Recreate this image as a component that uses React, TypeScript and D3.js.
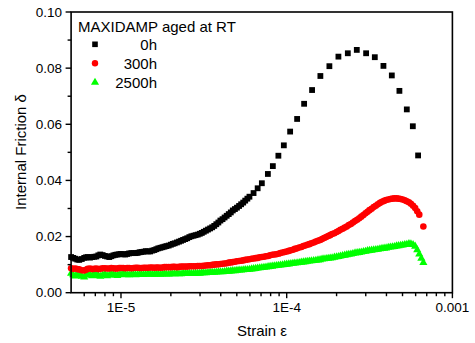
import React from "react";
import * as d3 from "d3";

// ---- data ----
const strainGrid = [
  5.0e-6, 5.3e-6, 5.6e-6, 6.0e-6, 6.3e-6, 6.7e-6, 7.1e-6, 7.5e-6, 8.0e-6, 8.5e-6, 9.0e-6, 9.5e-6,
  1.0e-5, 1.06e-5, 1.12e-5, 1.19e-5, 1.26e-5, 1.33e-5, 1.41e-5, 1.5e-5, 1.59e-5, 1.68e-5,
  1.78e-5, 1.88e-5, 2.0e-5, 2.11e-5, 2.24e-5, 2.37e-5, 2.51e-5, 2.66e-5, 2.82e-5, 2.99e-5,
  3.16e-5, 3.35e-5, 3.55e-5, 3.76e-5, 3.98e-5, 4.22e-5, 4.47e-5, 4.73e-5, 5.01e-5, 5.31e-5,
  5.62e-5, 5.96e-5, 6.31e-5, 6.68e-5, 7.08e-5, 7.5e-5, 7.94e-5, 8.41e-5, 8.91e-5, 9.44e-5,
  1.0e-4, 1.06e-4, 1.12e-4, 1.19e-4, 1.26e-4, 1.33e-4, 1.41e-4, 1.5e-4, 1.59e-4, 1.68e-4,
  1.78e-4, 1.88e-4, 2.0e-4, 2.11e-4, 2.24e-4, 2.37e-4, 2.51e-4, 2.66e-4, 2.82e-4, 2.99e-4,
  3.16e-4, 3.35e-4, 3.55e-4, 3.76e-4, 3.98e-4, 4.22e-4, 4.47e-4, 4.73e-4, 5.01e-4, 5.31e-4,
  5.62e-4, 5.96e-4, 6.31e-4, 6.68e-4,
];
// in-between measurement strains
const strainMid = [
  5.15e-6, 5.45e-6, 5.8e-6, 6.15e-6, 6.5e-6, 6.9e-6, 7.3e-6, 7.75e-6, 8.25e-6, 8.75e-6, 9.25e-6, 9.75e-6,
  1.03e-5, 1.09e-5, 1.155e-5, 1.225e-5, 1.295e-5, 1.37e-5, 1.455e-5, 1.545e-5, 1.635e-5, 1.73e-5,
  1.83e-5, 1.94e-5, 2.055e-5, 2.175e-5, 2.305e-5, 2.44e-5, 2.585e-5, 2.74e-5, 2.905e-5, 3.075e-5,
  3.255e-5, 3.45e-5, 3.655e-5, 3.87e-5, 4.1e-5, 4.345e-5, 4.6e-5, 4.87e-5, 5.16e-5, 5.465e-5,
  5.79e-5, 6.135e-5, 6.495e-5, 6.88e-5, 7.29e-5, 7.72e-5, 8.175e-5, 8.66e-5, 9.17e-5, 9.72e-5,
  1.03e-4, 1.09e-4, 1.155e-4, 1.225e-4, 1.295e-4, 1.37e-4, 1.455e-4, 1.545e-4, 1.635e-4, 1.73e-4,
  1.83e-4, 1.94e-4, 2.055e-4, 2.175e-4, 2.305e-4, 2.44e-4, 2.585e-4, 2.74e-4, 2.905e-4, 3.075e-4,
  3.255e-4, 3.45e-4, 3.655e-4, 3.87e-4, 4.1e-4, 4.345e-4, 4.6e-4, 4.87e-4, 5.16e-4, 5.465e-4,
  5.79e-4, 6.135e-4, 6.495e-4,
];

// 0h: dense part (first strains of the grid / mid grid)
const friction0hDense = [
  0.0127, 0.0121, 0.0117, 0.0124, 0.0127, 0.0127, 0.0129, 0.0136, 0.0131, 0.0127, 0.0133, 0.0136,
  0.0138, 0.0136, 0.014, 0.0141, 0.0142, 0.0145, 0.0148, 0.0147, 0.0152, 0.0158,
  0.0162, 0.0166, 0.0171, 0.0176, 0.0182, 0.0188, 0.0194, 0.0201, 0.0205, 0.021,
  0.0217, 0.0225, 0.0233, 0.0244, 0.0257, 0.0268, 0.028, 0.0293, 0.0303, 0.0315,
  0.0328, 0.0342, 0.0355, 0.0372, 0.039,
];
const friction0hMid = [
  0.0124, 0.0118, 0.012, 0.0126, 0.0125, 0.0128, 0.0133, 0.0134, 0.0129, 0.013, 0.0135, 0.0137,
  0.0137, 0.0138, 0.0141, 0.0141, 0.0144, 0.0146, 0.0147, 0.015, 0.0155, 0.016,
  0.0164, 0.0168, 0.0174, 0.0179, 0.0185, 0.0191, 0.0198, 0.0203, 0.0207, 0.0213,
  0.0221, 0.0229, 0.0238, 0.025, 0.0262, 0.0274, 0.0286, 0.0298, 0.0309, 0.0321,
  0.0335,
];
// 0h: sparse part
const strain0hSparse = [
  7.7e-5, 8.25e-5, 8.91e-5, 9.61e-5, 1.049e-4, 1.156e-4, 1.274e-4, 1.423e-4, 1.597e-4, 1.81e-4,
  2.052e-4, 2.338e-4, 2.649e-4, 3.015e-4, 3.402e-4, 3.836e-4, 4.309e-4, 4.789e-4, 5.307e-4,
  5.77e-4, 6.209e-4,
];
const friction0hSparse = [
  0.0423, 0.0451, 0.0488, 0.0525, 0.0574, 0.0619, 0.0673, 0.0722, 0.0772, 0.0807,
  0.0841, 0.0853, 0.0865, 0.0853, 0.0839, 0.0808, 0.0774, 0.0719, 0.0653,
  0.0593, 0.0489,
];

const friction300h = [
  0.0087, 0.0086, 0.0083, 0.0079, 0.0085, 0.0084, 0.0086, 0.0085, 0.0087, 0.0086, 0.0087, 0.0086,
  0.0088, 0.0087, 0.0088, 0.0088, 0.0089, 0.0088, 0.0089, 0.009, 0.0089, 0.009,
  0.009, 0.0091, 0.0091, 0.0092, 0.0092, 0.0093, 0.0093, 0.0094, 0.0094, 0.0095,
  0.0096, 0.0098, 0.0099, 0.0101, 0.0102, 0.0104, 0.0107, 0.0109, 0.0112, 0.0114,
  0.0117, 0.0119, 0.0122, 0.0124, 0.0127, 0.013, 0.0133, 0.0136, 0.0139, 0.0143,
  0.0147, 0.0151, 0.0156, 0.0161, 0.0166, 0.0171, 0.0176, 0.0182, 0.0188, 0.0195,
  0.0202, 0.0209, 0.0216, 0.0224, 0.0232, 0.0241, 0.025, 0.026, 0.0271, 0.0283,
  0.0294, 0.0305, 0.0315, 0.0324, 0.033, 0.0334, 0.0336, 0.0335, 0.0332, 0.0326,
  0.0317, 0.0302, 0.0278, 0.0236,
];
const friction300hMid = [
  0.0085, 0.0084, 0.008, 0.0082, 0.0086, 0.0085, 0.0084, 0.0087, 0.0086, 0.0088, 0.0086, 0.0088,
  0.0088, 0.0088, 0.0087, 0.0089, 0.0088, 0.0089, 0.0089, 0.009, 0.009, 0.0089,
  0.0091, 0.0091, 0.0092, 0.0091, 0.0093, 0.0093, 0.0094, 0.0094, 0.0095, 0.0095,
  0.0097, 0.0098, 0.01, 0.0101, 0.0103, 0.0105, 0.0108, 0.011, 0.0113, 0.0115,
  0.0118, 0.0121, 0.0123, 0.0126, 0.0128, 0.0131, 0.0135, 0.0137, 0.0141, 0.0145,
  0.0149, 0.0153, 0.0158, 0.0163, 0.0168, 0.0173, 0.0179, 0.0185, 0.0191, 0.0198,
  0.0205, 0.0212, 0.022, 0.0228, 0.0236, 0.0245, 0.0255, 0.0265, 0.0277, 0.0288,
  0.0299, 0.031, 0.032, 0.0327, 0.0332, 0.0335, 0.0336, 0.0334, 0.0329, 0.0322,
  0.031, 0.029,
];

const friction2500h = [
  0.0072, 0.0062, 0.0066, 0.0058, 0.007, 0.0063, 0.0068, 0.0061, 0.0069, 0.0065, 0.0067, 0.0064,
  0.0067, 0.0068, 0.0066, 0.0068, 0.0067, 0.0068, 0.0068, 0.0069, 0.0068, 0.0069,
  0.0069, 0.0069, 0.007, 0.007, 0.007, 0.0071, 0.0071, 0.0071, 0.0072, 0.0072,
  0.0073, 0.0074, 0.0075, 0.0076, 0.0077, 0.0078, 0.0079, 0.0081, 0.0082, 0.0083,
  0.0085, 0.0086, 0.0088, 0.009, 0.0092, 0.0094, 0.0096, 0.0098, 0.01, 0.0102,
  0.0104, 0.0106, 0.0108, 0.011, 0.0112, 0.0114, 0.0116, 0.0118, 0.012, 0.0123,
  0.0125, 0.0127, 0.013, 0.0133, 0.0136, 0.0139, 0.0142, 0.0145, 0.0147, 0.015,
  0.0153, 0.0155, 0.0157, 0.016, 0.0162, 0.0165, 0.0167, 0.017, 0.0172, 0.0175,
  0.0176, 0.0168, 0.014, 0.011,
];
const friction2500hMid = [
  0.0066, 0.0069, 0.0061, 0.0065, 0.0066, 0.007, 0.0064, 0.0066, 0.0063, 0.007, 0.0065, 0.0066,
  0.0069, 0.0066, 0.0068, 0.0066, 0.0068, 0.0067, 0.0069, 0.0068, 0.0069, 0.0068,
  0.007, 0.0069, 0.007, 0.0071, 0.007, 0.0071, 0.0072, 0.0071, 0.0072, 0.0073,
  0.0073, 0.0075, 0.0075, 0.0077, 0.0077, 0.0079, 0.008, 0.0081, 0.0083, 0.0084,
  0.0085, 0.0087, 0.0089, 0.0091, 0.0093, 0.0095, 0.0097, 0.0099, 0.0101, 0.0103,
  0.0105, 0.0107, 0.0109, 0.0111, 0.0113, 0.0115, 0.0117, 0.0119, 0.0122, 0.0124,
  0.0126, 0.0129, 0.0131, 0.0135, 0.0138, 0.014, 0.0144, 0.0146, 0.0149, 0.0152,
  0.0154, 0.0156, 0.0159, 0.0161, 0.0164, 0.0166, 0.0169, 0.0171, 0.0174, 0.0177,
  0.0174, 0.0155, 0.0125,
];

const yTicks = [0, 0.02, 0.04, 0.06, 0.08, 0.1];
const yMinorTicks = [0.01, 0.03, 0.05, 0.07, 0.09];
const xMajorTicks = [1e-5, 1e-4, 1e-3];
const xMajorLabels = ["1E-5", "1E-4", "0.001"];
const xMinorTicks = [
  6e-6, 7e-6, 8e-6, 9e-6,
  2e-5, 3e-5, 4e-5, 5e-5, 6e-5, 7e-5, 8e-5, 9e-5,
  2e-4, 3e-4, 4e-4, 5e-4, 6e-4, 7e-4, 8e-4, 9e-4,
];
const legendTitle = "MAXIDAMP aged at RT";
const seriesLabels = ["0h", "300h", "2500h"];

const FONT = "Arial, 'Liberation Sans', sans-serif";

function pair(strains: number[], values: number[]) {
  return values.map((v, i) => [strains[i], v] as [number, number]);
}

export default function App() {
  const x = d3.scaleLog().domain([5e-6, 1e-3]).range([71.1, 452.4]);
  const y = d3.scaleLinear().domain([0, 0.1]).range([292.7, 12]);
  const [x0, x1] = x.range();
  const [yb, yt] = y.range();

  const black = [
    ...pair(strainGrid, friction0hDense),
    ...pair(strainMid, friction0hMid),
    ...pair(strain0hSparse, friction0hSparse),
  ];
  const red = [...pair(strainGrid, friction300h), ...pair(strainMid, friction300hMid)];
  const green = [...pair(strainGrid, friction2500h), ...pair(strainMid, friction2500hMid)];

  const sq = 5.8;
  const triPath = d3.symbol().type(d3.symbolTriangle).size(29)();

  return (
    <svg
      width={475}
      height={343}
      style={{ position: "absolute", left: 0, top: 0, background: "#fff" }}
      fontFamily={FONT}
    >
      <rect x={0} y={0} width={475} height={343} fill="#fff" />
      {/* data */}
      <g>
        {green.map(([s, v], i) => (
          <path key={"g" + i} d={triPath!} transform={`translate(${x(s)},${y(v) + 0.8})`} fill="#00ff00" />
        ))}
        {red.map(([s, v], i) => (
          <circle key={"r" + i} cx={x(s)} cy={y(v)} r={3.3} fill="#ff0000" />
        ))}
        {black.map(([s, v], i) => (
          <rect key={"b" + i} x={x(s) - sq / 2} y={y(v) - sq / 2} width={sq} height={sq} fill="#000" />
        ))}
      </g>
      {/* frame */}
      <rect x={x0} y={yt} width={x1 - x0} height={yb - yt} fill="none" stroke="#000" strokeWidth={1.6} />
      {/* y ticks */}
      {yTicks.map((t) => (
        <g key={"yt" + t}>
          <line x1={x0 - 5.5} x2={x0} y1={y(t)} y2={y(t)} stroke="#000" strokeWidth={1.4} />
          <text x={62} y={y(t)} dy="0.35em" textAnchor="end" fontSize={13.5} fill="#000">
            {t.toFixed(2)}
          </text>
        </g>
      ))}
      {yMinorTicks.map((t) => (
        <line key={"ym" + t} x1={x0 - 3.5} x2={x0} y1={y(t)} y2={y(t)} stroke="#000" strokeWidth={1.4} />
      ))}
      {/* x ticks */}
      {xMajorTicks.map((t, i) => (
        <g key={"xt" + t}>
          <line x1={x(t)} x2={x(t)} y1={yb} y2={yb + 5.5} stroke="#000" strokeWidth={1.4} />
          <text x={x(t)} y={312} textAnchor="middle" fontSize={13.5} fill="#000">
            {xMajorLabels[i]}
          </text>
        </g>
      ))}
      {xMinorTicks.map((t) => (
        <line key={"xm" + t} x1={x(t)} x2={x(t)} y1={yb} y2={yb + 3.5} stroke="#000" strokeWidth={1.4} />
      ))}
      {/* axis titles */}
      <text x={262} y={336} textAnchor="middle" fontSize={15} fill="#000">
        Strain ε
      </text>
      <text transform="translate(26,152) rotate(-90)" textAnchor="middle" fontSize={15} fill="#000">
        Internal Friction δ
      </text>
      {/* legend */}
      <text x={78} y={32} fontSize={15} fill="#000">
        {legendTitle}
      </text>
      <rect x={95 - 2.8} y={44.3 - 2.8} width={5.6} height={5.6} fill="#000" />
      <circle cx={95} cy={63.3} r={3.2} fill="#ff0000" />
      <path d={triPath!} transform="translate(95,82.5)" fill="#00ff00" />
      {seriesLabels.map((l, i) => (
        <text key={l} x={157} y={[50, 69, 87.5][i]} textAnchor="end" fontSize={15} fill="#000">
          {l}
        </text>
      ))}
    </svg>
  );
}
